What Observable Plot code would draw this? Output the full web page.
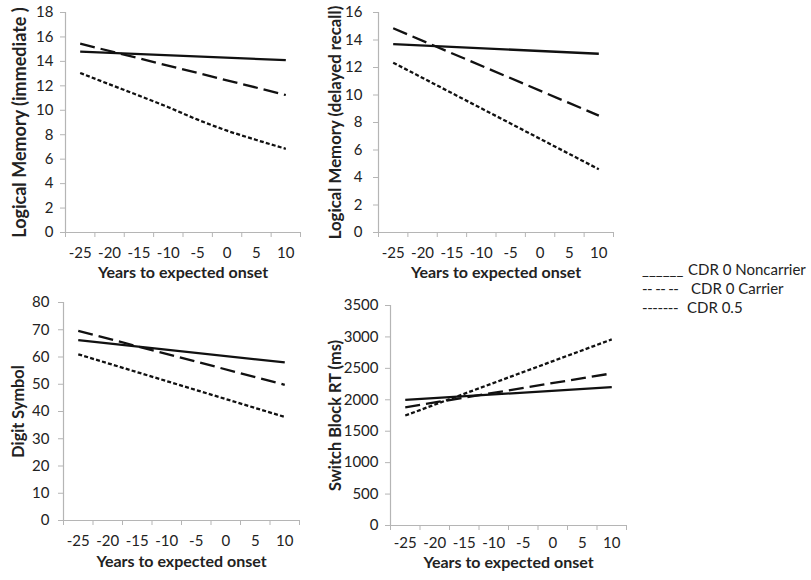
<!DOCTYPE html>
<html><head><meta charset="utf-8">
<script src="https://cdn.jsdelivr.net/npm/d3@7"></script>
<script src="https://cdn.jsdelivr.net/npm/@observablehq/plot@0.6"></script>
<style>
body{margin:0;background:#fff;font-family:Lato,"Open Sans",sans-serif;}
#root{position:relative;width:811px;height:580px;overflow:hidden;background:#fff;}
.panel{position:absolute;}
.leg{position:absolute;font-size:15px;color:#222;white-space:pre;line-height:18px;height:18px;}
</style></head><body><div id="root"></div>
<script>
// ---- shared axis data ----
const xLabels = [-25, -20, -15, -10, -5, 0, 5, 10];
const xBounds = [-27.5, -22.5, -17.5, -12.5, -7.5, -2.5, 2.5, 7.5, 12.5];
const xTitle = "Years to expected onset";
const seriesNames = ["CDR 0 Noncarrier", "CDR 0 Carrier", "CDR 0.5"];
const legendMarkers = ["______", "-- -- --", "-------"];
const endYears = [-25, 10];
const curveYears = [-25, -20, -15, -10, -5, 0, 5, 10];

// ---- Panel 1: Logical Memory (immediate) ----
const lmImmTitle = "Logical Memory (immediate )";
const lmImmTicks = [0, 2, 4, 6, 8, 10, 12, 14, 16, 18];
const lmImmNoncarrier = [14.8, 14.1];
const lmImmCarrier = [15.45, 11.25];
const lmImmCdr05 = [13.05, 12.12, 11.2, 10.25, 9.23, 8.33, 7.57, 6.85];

// ---- Panel 2: Logical Memory (delayed recall) ----
const lmDelTitle = "Logical Memory (delayed recall)";
const lmDelTicks = [0, 2, 4, 6, 8, 10, 12, 14, 16];
const lmDelNoncarrier = [13.7, 13.0];
const lmDelCarrier = [14.85, 8.5];
const lmDelCdr05 = [12.35, 4.6];

// ---- Panel 3: Digit Symbol ----
const dsTitle = "Digit Symbol";
const dsTicks = [0, 10, 20, 30, 40, 50, 60, 70, 80];
const dsNoncarrier = [66.2, 58.0];
const dsCarrier = [69.6, 49.8];
const dsCdr05 = [61.0, 38.0];

// ---- Panel 4: Switch Block RT ----
const sbTitle = "Switch Block RT (ms)";
const sbTicks = [0, 500, 1000, 1500, 2000, 2500, 3000, 3500];
const sbNoncarrier = [2000, 2200];
const sbCarrier = [1880, 2420];
const sbCdr05 = [1750, 2960];

const toRows = (xs, ys) => xs.map((x, i) => ({year: x, value: ys[i]}));
const dashes = [null, "15,6", "4,2.2"];

function panel(o) {
  const series = [
    toRows(endYears, o.non),
    toRows(endYears, o.car),
    toRows(o.cdrYears || endYears, o.cdr)
  ];
  const grey = "#b5b5b5";
  const chart = Plot.plot({
    width: o.width, height: o.height,
    marginLeft: o.ml, marginRight: o.mr, marginTop: o.mt, marginBottom: o.mb,
    style: {fontFamily: "Lato, 'Open Sans', sans-serif", fontSize: "15px", color: "#222", background: "transparent", overflow: "visible"},
    x: {domain: [-27.5, 12.5]},
    y: {domain: [0, o.yTicks[o.yTicks.length - 1]]},
    marks: [
      Plot.ruleY([0], {stroke: grey, strokeWidth: 1.2}),
      Plot.ruleX([-27.5], {stroke: grey, strokeWidth: 1.2}),
      Plot.axisY({ticks: o.yTicks, tickSize: 5, tickPadding: o.tickPad, stroke: grey, fill: "#222", fontSize: 15, label: null, tickFormat: d => String(d)}),
      Plot.axisX({ticks: xBounds, tickSize: 5, tickFormat: () => "", stroke: grey, label: null}),
      Plot.axisX({ticks: xLabels, tickSize: 0, tickPadding: o.xPad, fill: "#222", fontSize: 15, label: null, tickFormat: d => String(d)}),
      Plot.text([o.title], {text: d => d, frameAnchor: "left", textAnchor: "middle", rotate: -90, dx: o.titleDx, fontWeight: "bold", fontSize: o.titleSize, fill: "#222"}),
      Plot.text([xTitle], {text: d => d, frameAnchor: "bottom", textAnchor: "middle", dy: o.xTitleDy, fontWeight: "bold", fontSize: 16, fill: "#222"}),
      ...series.map((rows, i) => Plot.line(rows, {x: "year", y: "value", stroke: "#111", strokeWidth: 2.3, strokeDasharray: dashes[i], strokeLinecap: "butt", curve: "monotone-x"}))
    ]
  });
  chart.classList.add("panel");
  chart.style.left = o.left + "px";
  chart.style.top = o.top + "px";
  document.getElementById("root").appendChild(chart);
}

panel({left: 0, top: 0, width: 310, height: 290, ml: 65, mr: 10, mt: 12, mb: 58,
  yTicks: lmImmTicks, tickPad: 7, title: lmImmTitle, titleSize: 18, titleDx: -45, xPad: 15, xTitleDy: 45,
  non: lmImmNoncarrier, car: lmImmCarrier, cdr: lmImmCdr05, cdrYears: curveYears});
panel({left: 310, top: 0, width: 310, height: 290, ml: 68, mr: 7, mt: 12, mb: 58,
  yTicks: lmDelTicks, tickPad: 11, title: lmDelTitle, titleSize: 16.8, titleDx: -43, xPad: 15, xTitleDy: 45,
  non: lmDelNoncarrier, car: lmDelCarrier, cdr: lmDelCdr05});
panel({left: 0, top: 290, width: 310, height: 290, ml: 63, mr: 11, mt: 12, mb: 60,
  yTicks: dsTicks, tickPad: 9, title: dsTitle, titleSize: 16.3, titleDx: -45, xPad: 15, xTitleDy: 46,
  non: dsNoncarrier, car: dsCarrier, cdr: dsCdr05});
panel({left: 310, top: 290, width: 320, height: 290, ml: 80, mr: 4, mt: 15, mb: 55,
  yTicks: sbTicks, tickPad: 7, title: sbTitle, titleSize: 16.4, titleDx: -55, xPad: 12, xTitleDy: 42,
  non: sbNoncarrier, car: sbCarrier, cdr: sbCdr05});

// ---- legend (typed text, as in the reference) ----
const legendRows = [
  {mx: 642, tx: 688, cy: 269, ls: 0},
  {mx: 642, tx: 691, cy: 288, ls: -0.6},
  {mx: 642, tx: 687, cy: 307, ls: -0.4}
];
const root = document.getElementById("root");
seriesNames.forEach((name, i) => {
  const m = document.createElement("div");
  m.className = "leg"; m.textContent = legendMarkers[i];
  m.style.left = legendRows[i].mx + "px"; m.style.top = (legendRows[i].cy - 9) + "px";
  m.style.letterSpacing = legendRows[i].ls + "px";
  root.appendChild(m);
  const t = document.createElement("div");
  t.className = "leg"; t.textContent = name;
  t.style.left = legendRows[i].tx + "px"; t.style.top = (legendRows[i].cy - 9) + "px";
  root.appendChild(t);
});
</script></body></html>
